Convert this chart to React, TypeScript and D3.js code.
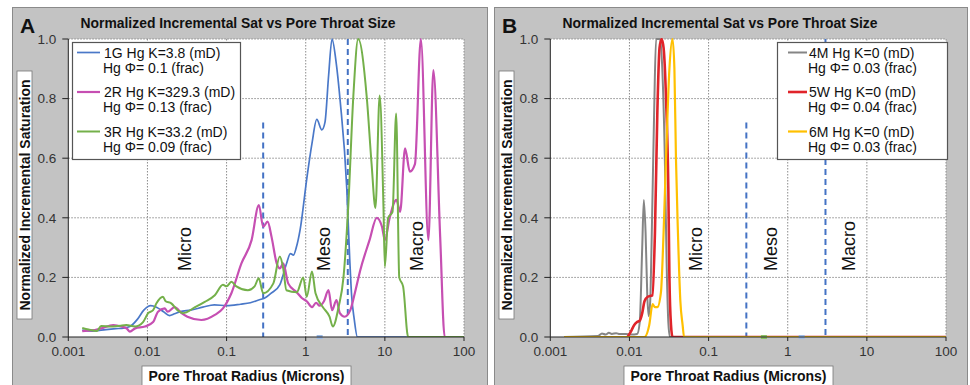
import React from 'react';
import * as d3 from 'd3';

type Pt = [number, number];

// axis ticks
const xTicks = [0.001, 0.01, 0.1, 1, 10, 100];
const yTicks = [0, 0.2, 0.4, 0.6, 0.8, 1.0];

// panel A series: [pore throat radius (microns), normalized incremental saturation]
const sat1G: Pt[] = [
  [0.0015, 0.023], [0.002, 0.02], [0.003, 0.025], [0.004, 0.028], [0.005, 0.03], [0.006, 0.035],
  [0.0075, 0.06], [0.009, 0.09], [0.011, 0.105], [0.013, 0.1], [0.016, 0.085], [0.019, 0.072],
  [0.022, 0.078], [0.026, 0.085], [0.035, 0.09], [0.05, 0.1], [0.07, 0.108], [0.1, 0.105],
  [0.15, 0.11], [0.2, 0.115], [0.26, 0.125], [0.3, 0.13], [0.37, 0.148], [0.47, 0.175],
  [0.57, 0.245], [0.64, 0.28], [0.7, 0.275], [0.76, 0.3], [0.85, 0.36], [1.03, 0.53],
  [1.2, 0.65], [1.38, 0.73], [1.6, 0.695], [1.75, 0.72], [1.95, 0.88], [2.15, 1.0],
  [2.4, 0.93], [2.73, 0.79], [3.3, 0.5], [3.6, 0.26], [3.8, 0.14], [4.1, 0.06], [4.5, 0],
  [19, 0],
];

const sat2R: Pt[] = [
  [0.0015, 0.02], [0.002, 0.022], [0.0026, 0.029], [0.0037, 0.04], [0.0047, 0.035], [0.0055, 0.028],
  [0.006, 0.018], [0.007, 0.029], [0.0093, 0.035], [0.0118, 0.05], [0.0136, 0.085], [0.0165, 0.096],
  [0.018, 0.085], [0.022, 0.1], [0.027, 0.08], [0.032, 0.068], [0.048, 0.057], [0.071, 0.074],
  [0.09, 0.096], [0.115, 0.147], [0.154, 0.247], [0.207, 0.325], [0.256, 0.443], [0.29, 0.37],
  [0.33, 0.387], [0.37, 0.336], [0.43, 0.247], [0.47, 0.23], [0.52, 0.247], [0.6, 0.18],
  [0.77, 0.15], [0.9, 0.13], [1.03, 0.12], [1.2, 0.1], [1.35, 0.115], [1.5, 0.105], [1.7, 0.12],
  [1.94, 0.157], [2.15, 0.09], [2.45, 0.124], [2.7, 0.08], [3.1, 0.068], [3.66, 0.09], [4.2, 0.15],
  [4.9, 0.225], [6.4, 0.325], [7.9, 0.4], [9.2, 0.37], [10, 0.325], [11.5, 0.4], [14, 0.46],
  [15.6, 0.42], [18, 0.633], [20.7, 0.555], [24, 0.58], [28.5, 1.0], [35.5, 0.325], [41, 0.896],
  [50, 0.336], [57, 0], [100, 0],
];

const sat3R: Pt[] = [
  [0.0015, 0.03], [0.0018, 0.025], [0.0023, 0.02], [0.0026, 0.037], [0.0035, 0.035], [0.0045, 0.038],
  [0.0054, 0.04], [0.007, 0.035], [0.0088, 0.05], [0.0102, 0.08], [0.0118, 0.09], [0.013, 0.113],
  [0.0157, 0.135], [0.017, 0.12], [0.02, 0.113], [0.024, 0.09], [0.028, 0.08], [0.04, 0.1],
  [0.053, 0.118], [0.071, 0.14], [0.09, 0.175], [0.1, 0.17], [0.115, 0.185], [0.133, 0.17],
  [0.186, 0.157], [0.226, 0.17], [0.255, 0.197], [0.29, 0.147], [0.39, 0.18], [0.47, 0.27],
  [0.52, 0.23], [0.57, 0.157], [0.77, 0.15], [0.93, 0.2], [1.03, 0.135], [1.2, 0.22], [1.33, 0.147],
  [1.65, 0.1], [2.0, 0.068], [2.2, 0.035], [2.6, 0.1], [3.0, 0.2], [3.45, 0.44], [4.0, 0.81],
  [4.6, 1.0], [5.9, 0.806], [6.8, 0.58], [7.6, 0.433], [8.6, 0.81], [9.6, 0.437], [10, 0.236],
  [11, 0.4], [12.5, 0.42], [13.9, 0.75], [15.2, 0.2], [17, 0.17], [19.7, 0], [100, 0],
];

// panel B series
const sat4M: Pt[] = [
  [0.0015, 0], [0.004, 0.003], [0.0045, 0.012], [0.005, 0.008], [0.0055, 0.014], [0.006, 0.01],
  [0.0068, 0.013], [0.0075, 0.01], [0.009, 0.01], [0.0105, 0.008], [0.0125, 0.01], [0.0135, 0.05],
  [0.0145, 0.3], [0.0152, 0.46], [0.016, 0.35], [0.0168, 0.14], [0.0175, 0.07], [0.0183, 0.12],
  [0.019, 0.3], [0.0205, 0.75], [0.0217, 1.0], [0.0245, 1.0], [0.026, 0.9], [0.028, 0.6],
  [0.0295, 0.25], [0.031, 0.05], [0.0325, 0], [100, 0],
];

const sat5W: Pt[] = [
  [0.0095, 0], [0.0105, 0.02], [0.0115, 0.04], [0.0125, 0.05], [0.0135, 0.055], [0.0145, 0.08],
  [0.0155, 0.12], [0.017, 0.135], [0.0195, 0.14], [0.021, 0.35], [0.0225, 0.75], [0.024, 0.97],
  [0.0255, 1.0], [0.027, 0.97], [0.029, 0.8], [0.031, 0.5], [0.032, 0.2], [0.0335, 0.04],
  [0.035, 0], [100, 0],
];

const sat6M: Pt[] = [
  [0.0015, 0], [0.0155, 0], [0.0178, 0.04], [0.0196, 0.11], [0.021, 0.1], [0.0225, 0.1],
  [0.025, 0.15], [0.027, 0.35], [0.029, 0.6], [0.032, 0.9], [0.035, 1.0], [0.037, 0.9],
  [0.0387, 0.6], [0.041, 0.35], [0.044, 0.12], [0.047, 0.04], [0.049, 0], [100, 0],
];

const seriesA = [
  { name: '1G Hg K=3.8 (mD)', phi: 'Hg Φ= 0.1 (frac)', color: '#4a78c8', width: 1.7, data: sat1G },
  { name: '2R Hg K=329.3 (mD)', phi: 'Hg Φ= 0.13 (frac)', color: '#c64fb2', width: 2.2, data: sat2R },
  { name: '3R Hg K=33.2 (mD)', phi: 'Hg Φ= 0.09 (frac)', color: '#74b04a', width: 2, data: sat3R },
];

const seriesB = [
  { name: '4M Hg K=0 (mD)', phi: 'Hg Φ= 0.03 (frac)', color: '#858585', width: 2, data: sat4M },
  { name: '5W Hg K=0 (mD)', phi: 'Hg Φ= 0.04 (frac)', color: '#e0242a', width: 2.6, data: sat5W },
  { name: '6M Hg K=0 (mD)', phi: 'Hg Φ= 0.03 (frac)', color: '#ffc000', width: 2.2, data: sat6M },
];

// pore class boundaries (dashed) and labels
const cutoffsA = [{ x: 0.29, top: 0.72 }, { x: 3.4, top: 1 }];
const cutoffsB = [{ x: 0.3, top: 0.72 }, { x: 3.0, top: 1 }];
const zonesA = [{ t: 'Micro', x: 0.0294 }, { t: 'Meso', x: 1.66 }, { t: 'Macro', x: 24.8 }];
const zonesB = [{ t: 'Micro', x: 0.068 }, { t: 'Meso', x: 0.607 }, { t: 'Macro', x: 5.9 }];
const markersA = [{ x: 1.5, color: '#9dbbe6' }];
const markersB = [{ x: 0.5, color: '#8cc063' }, { x: 1.5, color: '#9dbbe6' }];

const FONT = '"Liberation Sans", Arial, sans-serif';
const TOP = 39;
const BOTTOM = 337;

function Panel({ left, width, letter, series, cutoffs, zones, markers, legend }: any) {
  const x = d3.scaleLog().domain([0.001, 100]).range([left + 56.3, left + 452]);
  const y = d3.scaleLinear().domain([0, 1]).range([BOTTOM, TOP]);
  const line = d3.line<Pt>()
    .x(d => x(d[0]))
    .y(d => y(d[1]))
    .curve(d3.curveMonotoneX);
  const clipId = 'clip-' + letter;
  const [x0, x1] = x.range();

  return (
    <g fontFamily={FONT}>
      <rect x={left + 0.5} y={7.5} width={width} height={390} fill="#c3c3c3" stroke="#8a8a8a" />
      <text x={left + 8} y={33} fontSize={21} fontWeight="bold" fill="#111">{letter}</text>
      <text x={left + 226} y={28} fontSize={15.5} fontWeight="bold" textAnchor="middle" fill="#111"
        textLength={315} lengthAdjust="spacingAndGlyphs">Normalized Incremental Sat vs Pore Throat Size</text>

      <clipPath id={clipId}>
        <rect x={x0} y={TOP - 1} width={x1 - x0} height={BOTTOM - TOP + 1} />
      </clipPath>
      <rect x={x0} y={TOP} width={x1 - x0} height={BOTTOM - TOP} fill="#fff" />

      {/* grid */}
      {yTicks.filter(t => t > 0).map(t => (
        <line key={'gy' + t} x1={x0} x2={x1} y1={y(t)} y2={y(t)} stroke="#8c8c8c" strokeDasharray="1.5,1.5" />
      ))}
      {xTicks.filter(t => t > 0.001).map(t => (
        <line key={'gx' + t} x1={x(t)} x2={x(t)} y1={TOP} y2={BOTTOM} stroke="#8c8c8c" strokeDasharray="1.5,1.5" />
      ))}

      {/* cutoffs */}
      {cutoffs.map((c: any) => (
        <line key={'c' + c.x} x1={x(c.x)} x2={x(c.x)} y1={y(c.top)} y2={BOTTOM} stroke="#4472c4"
          strokeWidth={2} strokeDasharray="6,4" />
      ))}

      {zones.map((z: any) => (
        <text key={z.t} transform={`translate(${x(z.x)},271) rotate(-90)`} dy="0.36em" fontSize={18} fill="#111">{z.t}</text>
      ))}

      <g clipPath={`url(#${clipId})`}>
        {series.map((s: any) => (
          <path key={s.name} d={line(s.data) || ''} fill="none" stroke={s.color} strokeWidth={s.width}
            strokeLinejoin="round" />
        ))}
      </g>

      {markers.map((m: any) => (
        <rect key={'m' + m.x} x={x(m.x) - 3} y={BOTTOM - 2} width={6} height={4} fill={m.color} />
      ))}

      {/* axes */}
      <line x1={x0} x2={x0} y1={TOP} y2={BOTTOM} stroke="#222" />
      <line x1={x0} x2={x1} y1={BOTTOM} y2={BOTTOM} stroke="#222" strokeWidth={1.2} />
      {yTicks.map(t => (
        <g key={'ty' + t}>
          <line x1={x0 - 6} x2={x0} y1={y(t)} y2={y(t)} stroke="#222" />
          <text x={x0 - 12} y={y(t)} dy="0.35em" textAnchor="end" fontSize={13.5} fill="#333">{d3.format('.1f')(t)}</text>
        </g>
      ))}
      {xTicks.map(t => (
        <g key={'tx' + t}>
          <line x1={x(t)} x2={x(t)} y1={BOTTOM} y2={BOTTOM + 4} stroke="#222" />
          <text x={x(t)} y={356} textAnchor="middle" fontSize={13.5} fill="#333">{String(t)}</text>
        </g>
      ))}

      {/* axis titles */}
      <rect x={left + 5} y={71} width={15} height={248} fill="#fff" stroke="#777" strokeWidth={0.8} />
      <text transform={`translate(${left + 12.5},195) rotate(-90)`} dy="0.36em" textAnchor="middle"
        fontSize={14} fontWeight="bold" fill="#111">Normalized Incremental Saturation</text>
      <rect x={left + 130} y={366} width={209} height={30} fill="#fff" stroke="#777" strokeWidth={0.8} />
      <text x={left + 234.5} y={381} textAnchor="middle" fontSize={14} fontWeight="bold" fill="#111">Pore Throat Radius (Microns)</text>

      {/* legend */}
      <g transform={`translate(${left + legend.x},42)`}>
        <rect x={0.5} y={0.5} width={legend.w} height={117} fill="#fff" stroke="#555" strokeWidth={1.2} />
        {series.map((s: any, i: number) => (
          <g key={'l' + s.name} transform={`translate(0,${i * 39.5})`}>
            <line x1={legend.s0} x2={legend.s1} y1={10.5} y2={10.5} stroke={s.color} strokeWidth={s.width} />
            <text x={legend.tx} y={15.5} fontSize={14} fill="#111">{s.name}</text>
            <text x={legend.tx - 1} y={30.5} fontSize={14} fill="#111">{s.phi}</text>
          </g>
        ))}
      </g>
    </g>
  );
}

export default function App() {
  return (
    <svg width={970} height={385} style={{ position: 'absolute', left: 0, top: 0, background: '#fff' }}>
      <Panel left={12} width={475} letter="A" series={seriesA} cutoffs={cutoffsA} zones={zonesA}
        markers={markersA} legend={{ x: 60, w: 168, s0: 5, s1: 28, tx: 32 }} />
      <Panel left={494} width={473} letter="B" series={seriesB} cutoffs={cutoffsB} zones={zonesB}
        markers={markersB} legend={{ x: 283, w: 170, s0: 11, s1: 30, tx: 32 }} />
    </svg>
  );
}
